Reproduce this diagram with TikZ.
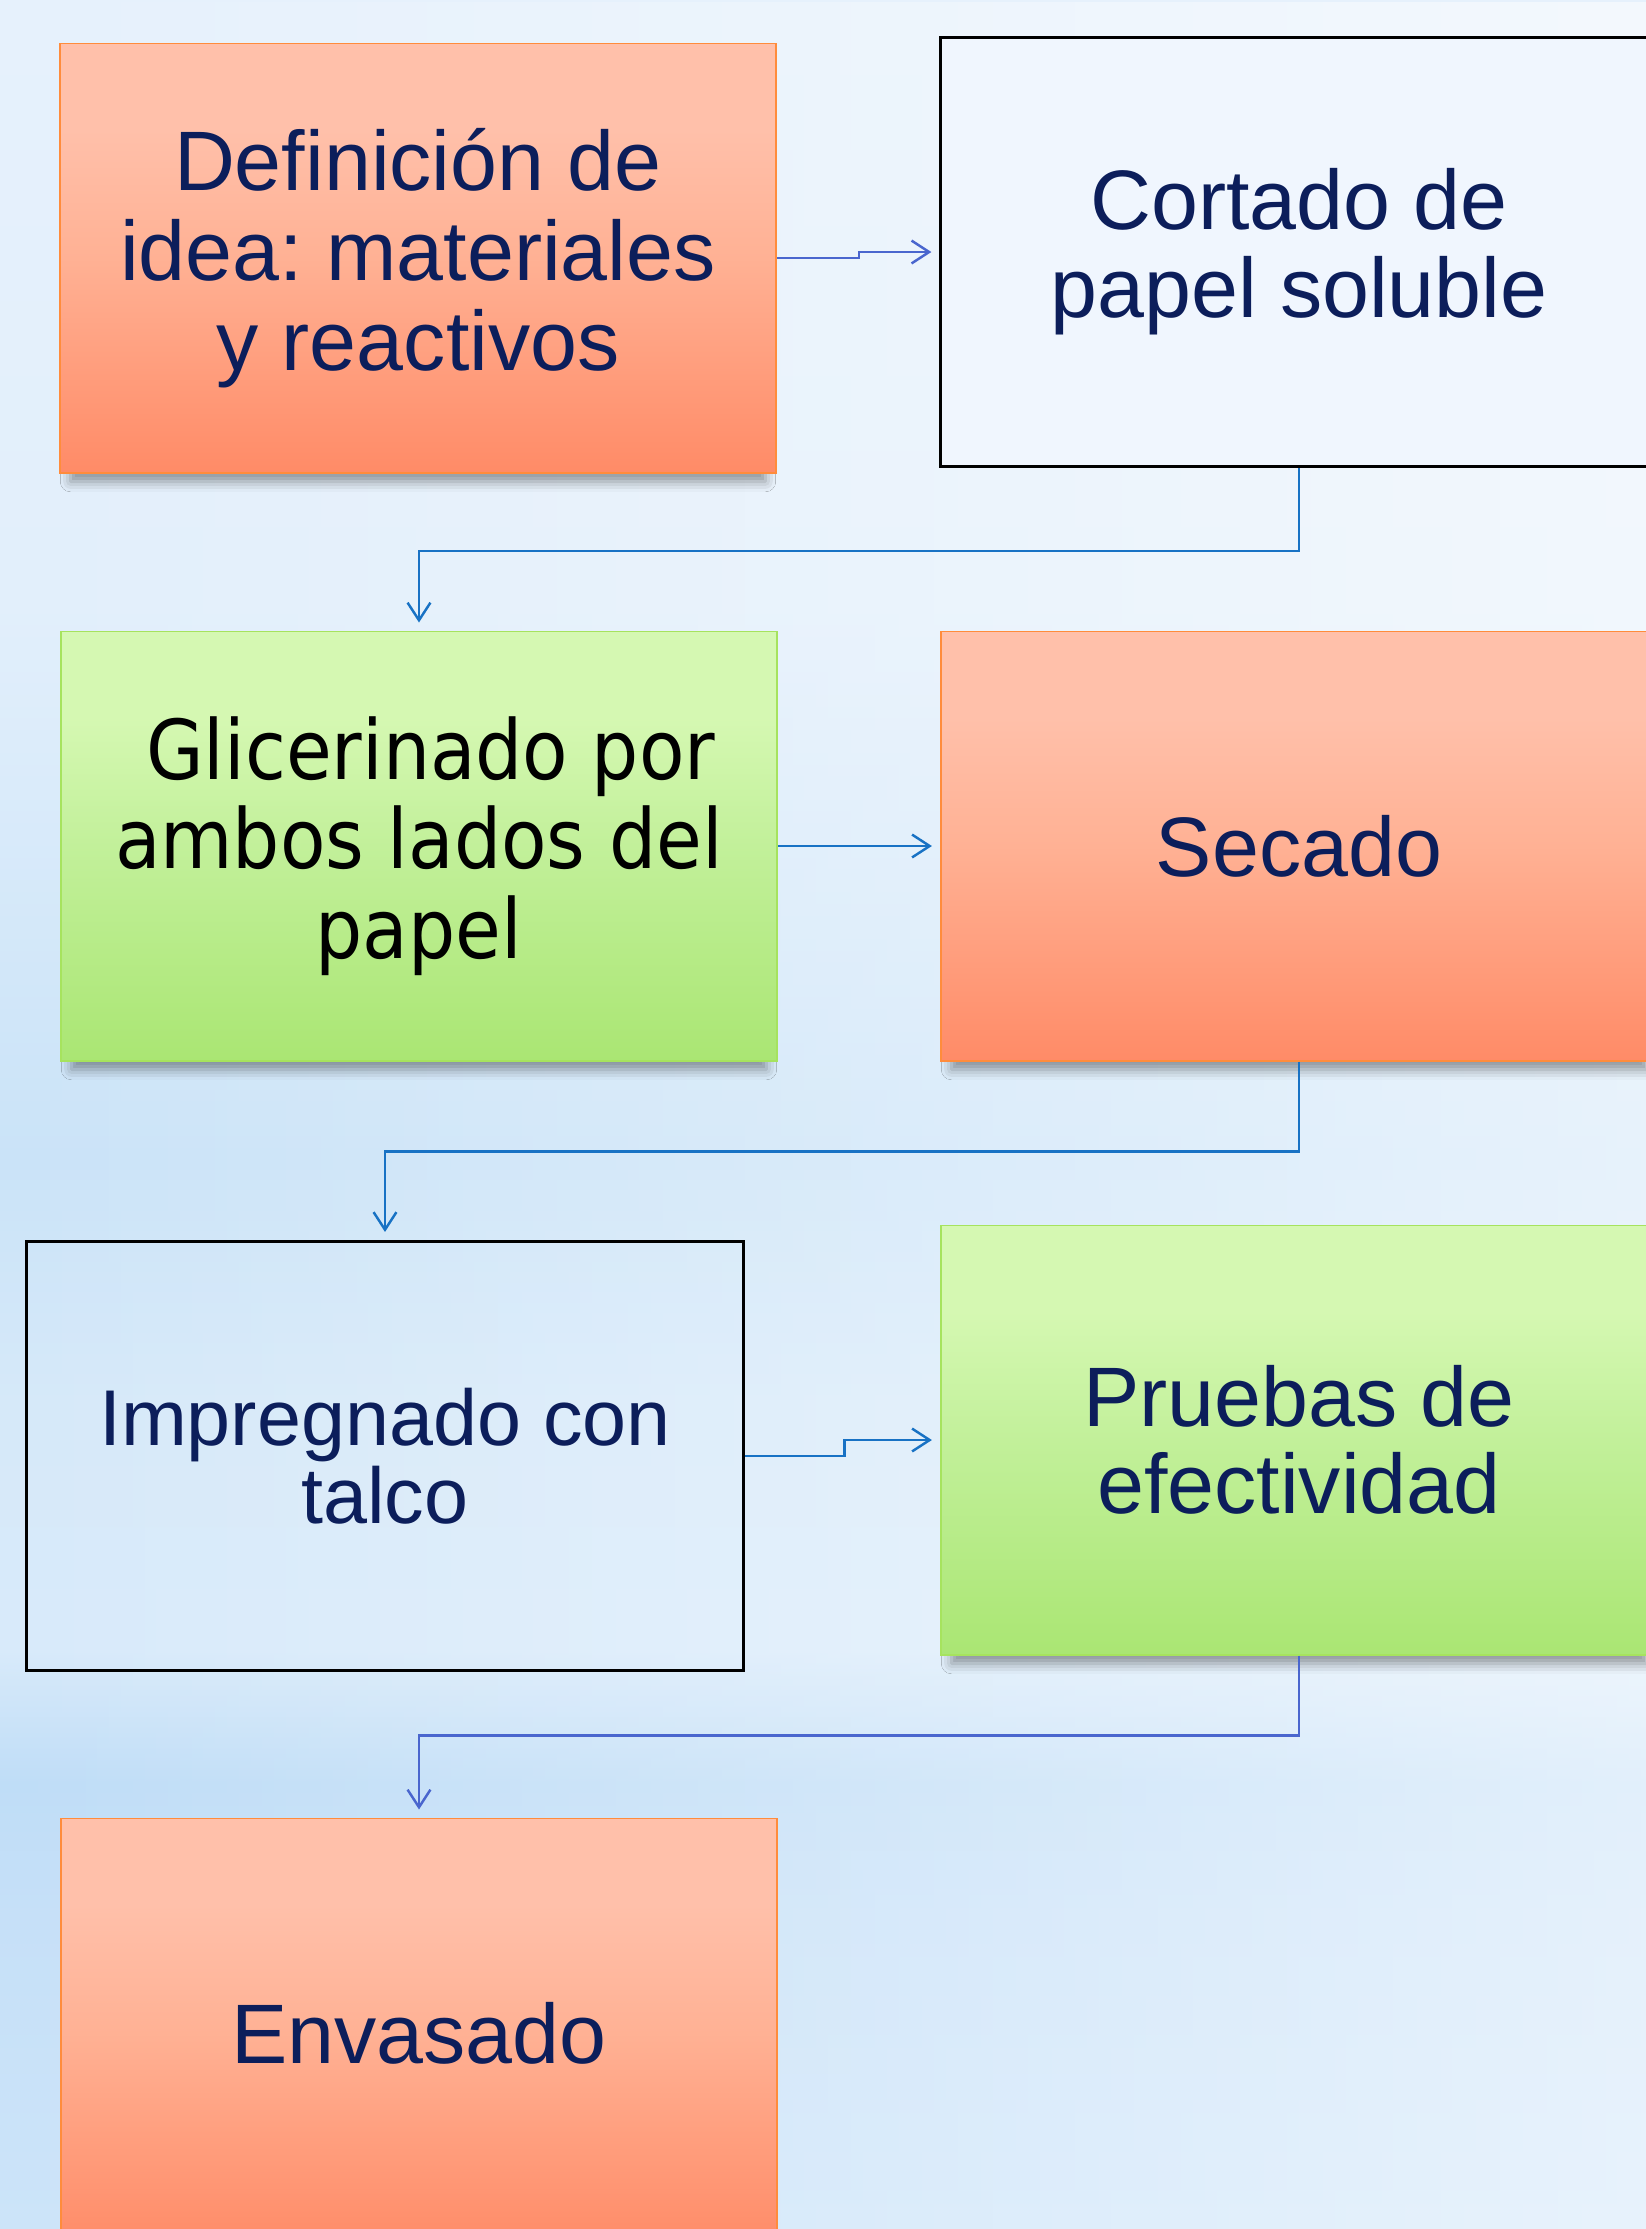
\documentclass[tikz,border=0pt]{standalone}
\usepackage{fontspec}
\setmainfont{Liberation Sans}
\newfontfamily\glicfont{DejaVu Sans Condensed}
\usetikzlibrary{arrows.meta,shadows.blur,fadings}
\frenchspacing

\definecolor{navy}{HTML}{0C1E5B}
\definecolor{orangeline}{HTML}{FF8C3C}
\definecolor{greenline}{HTML}{A6E35E}
\definecolor{flowblue}{HTML}{1872C4}
\definecolor{flowroyal}{HTML}{4A66CE}
\definecolor{cortfill}{HTML}{F0F6FE}
% Hintergrundfarben
\definecolor{bgA}{HTML}{E6F1FC}
\definecolor{bgB}{HTML}{E2EFFB}
\definecolor{bgC}{HTML}{CAE3F8}
\definecolor{bgD}{HTML}{D6E9F9}
\definecolor{bgE}{HTML}{D8EAFA}
\definecolor{bgF}{HTML}{BFDDF7}
\definecolor{bgG}{HTML}{C6E0F8}
\definecolor{bgH}{HTML}{CCE4F9}
% Kastenfarben
\definecolor{orT}{HTML}{FFC0AA}
\definecolor{orM}{HTML}{FFB194}
\definecolor{orB}{HTML}{FF8B67}
\definecolor{grT}{HTML}{D5F8B2}
\definecolor{grM}{HTML}{C2F09A}
\definecolor{grB}{HTML}{AAE673}

\pgfdeclareverticalshading{bgshade}{100bp}{color(0bp)=(bgH); color(25bp)=(bgH);
	color(32bp)=(bgG); color(35bp)=(bgF); color(38bp)=(bgE); color(43.5bp)=(bgD);
	color(49bp)=(bgC); color(61.5bp)=(bgB); color(75bp)=(bgA); color(100bp)=(bgA)}
\pgfdeclareverticalshading{orangeshade}{100bp}{color(0bp)=(orB); color(25bp)=(orB);
	color(50bp)=(orM); color(65bp)=(orT); color(100bp)=(orT)}
\pgfdeclareverticalshading{greenshade}{100bp}{color(0bp)=(grB); color(25bp)=(grB);
	color(50bp)=(grM); color(65bp)=(grT); color(100bp)=(grT)}
\tikzfading[name=bgfade, left color=transparent!100, right color=transparent!45]

\tikzset{
	box/.style={minimum width=7.16cm, minimum height=4.29cm, align=center,
		inner sep=0pt, text=navy, font=\fontsize{24}{25.5}\selectfont},
	boxshadow/.style={blur shadow={shadow xshift=0pt, shadow yshift=-4.5pt,
		shadow blur radius=3pt, shadow opacity=40, shadow scale=0.97}},
	orangebox/.style={box, boxshadow, draw=orangeline, line width=0.5pt,
		shade, shading=orangeshade},
	greenbox/.style={box, boxshadow, draw=greenline, line width=0.5pt,
		shade, shading=greenshade},
	blackbox/.style={box, draw=black, line width=0.8pt},
	flow/.style={line width=0.7pt, -{Straight Barb[length=5pt,width=6.5pt]},
		shorten >=0.8mm},
}

\begin{document}
\begin{tikzpicture}[x=0.01cm, y=-0.01cm]
	% Hintergrund
	\useasboundingbox (0,0) rectangle (1646,2229);
	\shade[shading=bgshade] (0,0) rectangle (1646,2229);
	\fill[white, path fading=bgfade] (0,0) rectangle (1646,2229);

	% Kästen
	\node[orangebox] (def) at (418,258) {Definición de\\idea: materiales\\y reactivos};
	\node[blackbox, fill=cortfill, font=\fontsize{24}{25}\selectfont] (cort) at (1299,252)
		{Cortado de\\papel soluble};
	\node[greenbox, text=black, font=\glicfont\fontsize{23.5}{25.5}\selectfont] (glic)
		at (419,846) {\ Glicerinado por\\ambos lados del\\papel};
	\node[orangebox] (sec) at (1299,846) {Secado};
	\node[blackbox, font=\fontsize{22.5}{22.2}\selectfont] (impr) at (385,1456)
		{Impregnado con\\talco};
	\node[greenbox, font=\fontsize{24}{24.7}\selectfont] (prue) at (1299,1440)
		{Pruebas de\\efectividad};
	\node[orangebox] (env) at (419,2033) {Envasado};

	% Pfeile
	\draw[flow, flowroyal] (def.east) -- ++(82,0) |- (cort.west);
	\draw[flow, flowblue] (cort.south) -- ++(0,83) -| (glic.north);
	\draw[flow, flowblue] (glic.east) -- (sec.west);
	\draw[flow, flowblue] (sec.south) -- ++(0,90) -| (impr.north);
	\draw[flow, flowblue] (impr.east) -- ++(100,0) |- (prue.west);
	\draw[flow, flowroyal] (prue.south) -- ++(0,80) -| (env.north);
\end{tikzpicture}
\end{document}
